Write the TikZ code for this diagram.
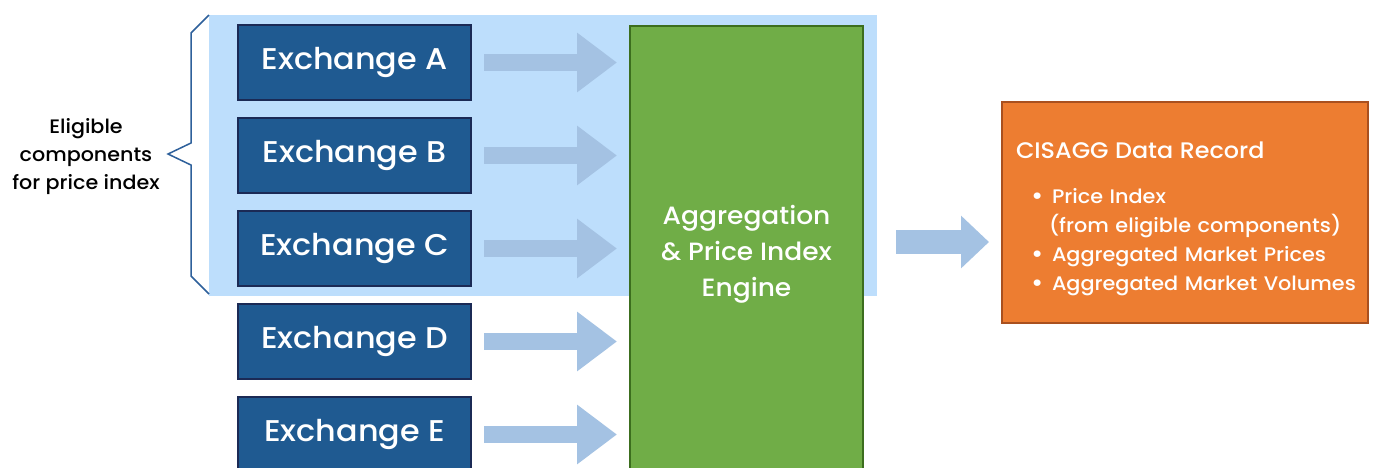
\documentclass[tikz,border=0pt]{standalone}
\usepackage{fontspec}
\setmainfont{Poppins Medium}[FakeStretch=1.06]
\usetikzlibrary{arrows.meta}
\definecolor{exfill}{HTML}{1F5A91}
\definecolor{exline}{HTML}{1B2A55}
\definecolor{zone}{HTML}{BDDEFC}
\definecolor{flow}{HTML}{A4C2E3}
\definecolor{engfill}{HTML}{70AD47}
\definecolor{engline}{HTML}{3C6E1E}
\definecolor{recfill}{HTML}{ED7D31}
\definecolor{recline}{HTML}{A9501F}
\definecolor{brace}{HTML}{2E609B}
\tikzset{
  exbox/.style={draw=exline, line width=2pt, fill=exfill, text=white,
    minimum width=233pt, minimum height=75pt, inner sep=0pt,
    font=\fontsize{30}{34}\selectfont},
  engbox/.style={draw=engline, line width=2pt, fill=engfill, text=white,
    minimum width=233pt, minimum height=456pt, inner sep=0pt, align=center,
    font=\fontsize{25}{36}\selectfont},
  recbox/.style={draw=recline, line width=2pt, fill=recfill, text=white,
    minimum width=366pt, minimum height=221pt, inner xsep=14pt, inner ysep=0pt,
    text width=338pt, align=left, font=\fontsize{19.6}{29}\selectfont},
  fat/.style={draw=flow, line width=17pt,
    -{Triangle[length=40pt, width=57pt]}, shorten <=12pt, shorten >=12pt},
  fatout/.style={draw=flow, line width=24pt,
    -{Triangle[length=28pt, width=51pt]}, shorten <=32pt, shorten >=12pt},
  sidelabel/.style={align=center, font=\fontsize{19.5}{28}\selectfont}
}
\newcommand{\bulletline}[1]{\mbox{\hspace*{15pt}\makebox[21pt][l]{\raisebox{-1pt}{\fontsize{25}{29}\selectfont\textbullet}}#1}}
\begin{document}
\begin{tikzpicture}[x=1pt, y=-1pt]
  \clip (0,0) rectangle (1373,467);
  \fill[white] (0,0) rectangle (1373,467);
  % shaded zone holding the eligible exchanges
  \fill[zone] (209,15) rectangle (877,296);
  % exchanges
  \node[exbox] (exA) at (354.5,62.5) {Exchange A};
  \node[exbox] (exB) at (354.5,155.5) {Exchange B};
  \node[exbox] (exC) at (354.5,248.5) {Exchange C};
  \node[exbox] (exD) at (354.5,341.5) {Exchange D};
  \node[exbox] (exE) at (354.5,434.5) {Exchange E};
  % engine
  \node[engbox] (eng) at (746.5,254) {Aggregation\\\& Price Index\\Engine};
  % output record
  \node[recbox] (rec) at (1185,212.5) {%
    \rule{0pt}{29pt}{\fontsize{22.5}{29}\selectfont CISAGG Data Record}\\[16pt]
    \bulletline{Price Index}\\
    \mbox{\hspace*{33pt}(from eligible components)}\\
    \bulletline{Aggregated Market Prices}\\
    \bulletline{Aggregated Market Volumes}};
  % flows into the engine
  \foreach \n in {exA,exB,exC,exD,exE}
    \draw[fat] (\n.east) -- (\n.east -| eng.west);
  % flow out of the engine
  \coordinate (out) at ([yshift=12pt]eng.east);
  \draw[fatout] (out) -- (out -| rec.west);
  % brace and its label
  \draw[brace, line width=1.5pt, line join=miter]
    (209,15) -- (191,33) -- (191,143) -- (168,154) -- (191,165)
    -- (191,276) -- (209,294);
  \node[sidelabel] (elig) at (86,157) {Eligible\\components\\for price index};
\end{tikzpicture}
\end{document}
